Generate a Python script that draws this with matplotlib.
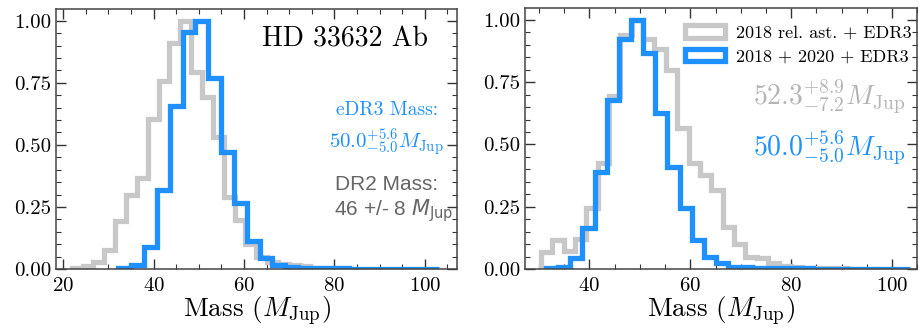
import numpy as np
import matplotlib
matplotlib.use("Agg")
import matplotlib.pyplot as plt
from matplotlib.ticker import MultipleLocator

plt.rcParams.update({
    "font.family": "serif",
    "font.serif": ["cmr10"],
    "mathtext.fontset": "cm",
    "axes.formatter.use_mathtext": True,
    "axes.unicode_minus": False,
})

# ---------------- data ----------------
# Left panel: DR2-based (grey) and eDR3-based (blue) posterior histograms (peak-normalised)
left_grey_range = (21.9, 81.9)
left_grey = [0.006, 0.012, 0.028, 0.078, 0.193, 0.300, 0.365, 0.603, 0.757, 0.912,
             1.000, 0.794, 0.694, 0.532, 0.290, 0.196, 0.100, 0.048, 0.030, 0.020,
             0.016, 0.012, 0.006, 0.004, 0.002]
left_blue_range = (32.2, 103.2)
left_blue = [0.005, 0.015, 0.089, 0.318, 0.656, 0.953, 1.000, 0.769, 0.471, 0.267,
             0.112, 0.046, 0.015, 0.008, 0.005, 0.003, 0.002, 0.002, 0.001, 0.001,
             0.001, 0.001, 0.001, 0.001, 0.001]

# Right panel
right_grey_range = (30.4, 97.9)
right_grey = [0.069, 0.116, 0.073, 0.120, 0.243, 0.425, 0.694, 0.940, 1.000, 0.922,
              0.882, 0.800, 0.566, 0.425, 0.378, 0.317, 0.169, 0.102, 0.048, 0.044,
              0.024, 0.012, 0.006, 0.004, 0.003, 0.002, 0.002, 0.001, 0.001, 0.001]
right_blue_range = (31.4, 103.6)
right_blue = [0.003, 0.010, 0.044, 0.163, 0.391, 0.680, 0.925, 1.000, 0.869, 0.627,
              0.411, 0.244, 0.116, 0.048, 0.025, 0.010, 0.006, 0.004, 0.003, 0.002,
              0.002, 0.002, 0.001, 0.001, 0.001, 0.001, 0.001, 0.001, 0.001, 0.001]

legend_labels = ["2018 rel. ast. + EDR3", "2018 + 2020 + EDR3"]

GREY = "#c8c8c8"
BLUE = "#1e90ff"
LW = 3.8


def draw_hist(ax, rng, vals, color, label=None):
    edges = np.linspace(rng[0], rng[1], len(vals) + 1)
    centers = 0.5 * (edges[:-1] + edges[1:])
    ax.hist(centers, bins=edges, weights=vals, histtype="step",
            color=color, lw=LW, label=label)


def style(ax, xlim):
    ax.set_xlim(*xlim)
    ax.set_ylim(0, 1.047)
    ax.xaxis.set_major_locator(MultipleLocator(20))
    ax.xaxis.set_minor_locator(MultipleLocator(5))
    ax.yaxis.set_major_locator(MultipleLocator(0.25))
    ax.yaxis.set_minor_locator(MultipleLocator(0.05))
    ax.yaxis.set_major_formatter(matplotlib.ticker.FormatStrFormatter("%.2f"))
    ax.tick_params(which="both", direction="in", top=True, right=True,
                   colors="#333333", labelcolor="black", labelsize=15)
    ax.tick_params(which="major", length=7, width=1.0)
    ax.tick_params(which="minor", length=3.5, width=0.8)
    ax.tick_params(axis="x", pad=6)
    for s in ax.spines.values():
        s.set_color("#444444")
        s.set_linewidth(1.1)
    ax.set_xlabel(r"Mass ($M_{\rm Jup}$)", fontsize=19.5, labelpad=0)


fig = plt.figure(figsize=(9.19, 3.29), dpi=100)
ax1 = fig.add_axes([0.0609, 0.1824, 0.4363, 0.790])
ax2 = fig.add_axes([0.5716, 0.1824, 0.4266, 0.7925])

# Left panel
draw_hist(ax1, left_grey_range, left_grey, GREY)
draw_hist(ax1, left_blue_range, left_blue, BLUE)
style(ax1, (18.4, 107.1))
ax1.text(0.928, 0.855, r"HD 33632 Ab", transform=ax1.transAxes,
         ha="right", va="baseline", fontsize=20)
ax1.text(0.825, 0.592, "eDR3 Mass:", transform=ax1.transAxes, ha="center",
         va="baseline", fontsize=14, color=BLUE)
ax1.text(0.823, 0.464, r"$50.0^{+5.6}_{-5.0}M_{\rm Jup}$", transform=ax1.transAxes,
         ha="center", va="baseline", fontsize=15, color=BLUE)
ax1.text(0.824, 0.304, "DR2 Mass:", transform=ax1.transAxes, ha="center",
         va="baseline", fontsize=15, color="#666666", family="Liberation Sans")
ax1.text(0.842, 0.208, r"46 +/- 8 $M_{\rm Jup}$", transform=ax1.transAxes,
         ha="center", va="baseline", fontsize=15, color="#666666",
         family="Liberation Sans", math_fontfamily="dejavusans")

# Right panel
draw_hist(ax2, right_grey_range, right_grey, GREY, legend_labels[0])
draw_hist(ax2, right_blue_range, right_blue, BLUE, legend_labels[1])
style(ax2, (27.3, 105.0))
ax2.legend(loc="upper right", frameon=False, fontsize=13,
           bbox_to_anchor=(1.012, 0.977), handletextpad=0.6, labelspacing=0.45,
           handlelength=2.2, borderaxespad=0.2)
ax2.text(0.775, 0.626, r"$52.3^{+8.9}_{-7.2}M_{\rm Jup}$", transform=ax2.transAxes,
         ha="center", va="baseline", fontsize=20, color="#b4b4b4")
ax2.text(0.775, 0.431, r"$50.0^{+5.6}_{-5.0}M_{\rm Jup}$", transform=ax2.transAxes,
         ha="center", va="baseline", fontsize=20, color=BLUE)

fig.savefig("out.png", dpi=100)
